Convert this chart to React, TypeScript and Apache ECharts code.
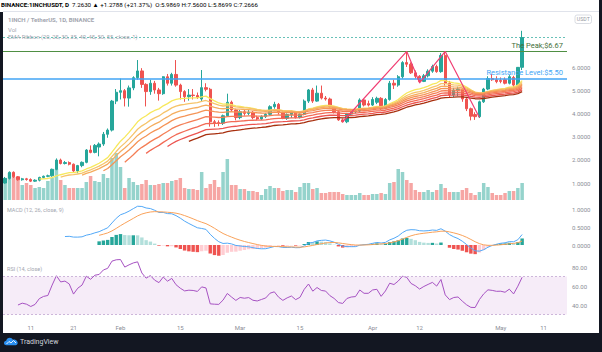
import React, { useEffect, useRef } from "react";
import * as echarts from "echarts";

// ---------- data ----------
const startDate = "2021-01-05";
const dayCount = 132; // Jan 5 .. May 16 (empty space right of last candle)

// closes of the bars before the visible range (Dec 25 – Jan 4), only for indicator warm-up
const preCloses = [1.40, 1.35, 1.30, 1.22, 1.18, 1.12, 1.08, 1.02, 0.98, 0.94, 1.00];

const opens = [
  1.00, 1.20, 1.46, 1.27, 1.14, 1.18, 1.15, 1.08, 1.12, 1.24, 1.29, 1.31, 1.59, 1.99, 1.84, 1.88, 1.81, 1.52, 1.75, 1.89,
  2.42, 2.32, 2.55, 2.68, 3.10, 3.28, 4.53, 4.91, 4.98, 4.66, 5.10, 5.54, 5.83, 5.25, 4.94, 5.30, 5.01, 4.85, 5.58, 5.30,
  5.68, 5.22, 4.94, 4.72, 4.79, 4.77, 4.62, 5.11, 5.04, 3.64, 3.60, 3.58, 3.90, 4.48, 4.15, 3.82, 4.07, 4.00, 4.05, 3.82,
  3.76, 3.86, 3.96, 4.29, 4.39, 4.03, 3.79, 3.95, 4.07, 3.82, 3.96, 4.53, 5.01, 4.53, 4.87, 4.66, 4.62, 4.29, 4.07, 3.72,
  3.64, 3.97, 4.07, 4.10, 4.58, 4.42, 4.36, 4.48, 4.65, 4.22, 4.60, 5.30, 5.22, 5.58, 6.19, 6.12, 5.75, 5.60, 5.38, 5.62,
  5.82, 6.02, 5.80, 6.50, 5.30, 4.80, 5.00, 5.05, 4.62, 4.20, 3.95, 3.86, 4.50, 5.05, 5.50, 5.45, 5.42, 5.45, 5.30, 5.55,
  5.22, 5.9869,
];
const highs = [
  1.26, 1.50, 1.50, 1.30, 1.22, 1.22, 1.20, 1.16, 1.27, 1.32, 1.36, 1.62, 2.06, 2.05, 1.95, 1.93, 1.84, 1.78, 1.93, 2.46,
  2.62, 2.68, 2.75, 3.20, 3.35, 4.58, 5.05, 5.50, 5.05, 5.20, 5.60, 6.30, 5.95, 5.30, 5.45, 5.40, 5.10, 5.60, 5.70, 5.75,
  6.30, 5.28, 5.00, 5.05, 5.05, 4.90, 5.87, 5.30, 5.10, 3.72, 3.70, 3.95, 4.85, 4.55, 4.20, 4.15, 4.15, 4.15, 4.10, 3.90,
  3.92, 4.02, 4.35, 4.50, 4.45, 4.08, 4.00, 4.12, 4.10, 4.00, 4.60, 5.05, 5.10, 5.20, 5.20, 4.75, 4.68, 4.32, 4.10, 3.78,
  4.02, 4.12, 4.20, 4.65, 4.62, 4.55, 4.70, 4.72, 4.70, 4.66, 5.40, 5.45, 5.65, 6.25, 6.67, 6.20, 5.85, 5.65, 5.70, 5.90,
  6.10, 6.10, 6.60, 6.67, 5.40, 5.10, 5.15, 5.08, 4.68, 4.25, 4.05, 4.55, 5.10, 5.60, 5.70, 5.60, 5.55, 5.55, 5.65, 5.62,
  6.00, 7.56,
];
const lows = [
  0.97, 1.15, 1.22, 1.10, 1.10, 1.10, 1.04, 1.05, 1.07, 1.20, 1.25, 1.27, 1.55, 1.80, 1.80, 1.76, 1.48, 1.42, 1.68, 1.85,
  2.28, 2.28, 2.15, 2.60, 2.95, 3.22, 4.40, 4.60, 4.30, 4.29, 5.00, 5.45, 5.10, 4.30, 4.80, 4.85, 4.55, 4.80, 5.20, 5.20,
  5.15, 4.60, 4.50, 4.55, 4.60, 4.62, 4.50, 4.95, 3.43, 3.42, 3.45, 3.50, 3.85, 4.10, 3.70, 3.75, 3.90, 3.92, 3.75, 3.70,
  3.72, 3.80, 3.90, 4.20, 3.95, 3.75, 3.72, 3.80, 3.78, 3.78, 3.92, 4.45, 4.45, 4.50, 4.60, 4.55, 4.25, 4.00, 3.68, 3.60,
  3.58, 3.90, 4.00, 4.02, 4.30, 4.30, 4.32, 4.40, 4.15, 4.18, 4.55, 5.05, 5.15, 5.50, 6.00, 5.70, 5.50, 5.30, 5.35, 5.55,
  5.75, 5.75, 5.75, 5.20, 4.70, 4.70, 4.75, 4.50, 4.10, 3.70, 3.72, 3.80, 4.45, 5.00, 5.40, 5.30, 5.30, 5.25, 5.25, 5.10,
  5.15, 5.8699,
];
const closes = [
  1.20, 1.46, 1.27, 1.14, 1.18, 1.15, 1.08, 1.12, 1.24, 1.29, 1.31, 1.59, 1.99, 1.84, 1.88, 1.81, 1.52, 1.75, 1.89, 2.42,
  2.32, 2.62, 2.68, 3.10, 3.28, 4.53, 4.91, 4.98, 4.66, 5.10, 5.54, 5.83, 5.25, 4.94, 5.30, 5.01, 4.85, 5.58, 5.30, 5.68,
  5.22, 4.94, 4.72, 4.79, 4.77, 4.70, 5.11, 5.04, 3.64, 3.60, 3.58, 3.90, 4.48, 4.15, 3.82, 4.07, 4.00, 4.05, 3.82, 3.76,
  3.86, 3.96, 4.29, 4.39, 4.03, 3.79, 3.95, 4.07, 3.82, 3.96, 4.53, 5.01, 4.53, 4.87, 4.66, 4.62, 4.29, 4.07, 3.72, 3.64,
  3.97, 4.07, 4.10, 4.58, 4.36, 4.36, 4.60, 4.65, 4.22, 4.60, 5.30, 5.22, 5.58, 6.19, 6.12, 5.75, 5.60, 5.38, 5.62, 5.82,
  6.02, 5.80, 6.50, 5.30, 4.80, 5.00, 5.05, 4.62, 4.20, 3.88, 3.86, 4.50, 5.05, 5.50, 5.45, 5.37, 5.38, 5.30, 5.58, 5.22,
  5.984, 7.2666,
];
// volume (relative units)
const volumes = [
  44, 54, 46, 40, 30, 34, 30, 24, 26, 24, 38, 44, 62, 40, 30, 24, 24, 24, 24, 36,
  48, 38, 36, 52, 44, 84, 94, 66, 24, 44, 36, 30, 32, 40, 30, 30, 32, 34, 34, 38,
  40, 44, 24, 22, 22, 20, 56, 24, 32, 40, 26, 56, 82, 30, 30, 22, 22, 18, 18, 16,
  10, 22, 28, 24, 24, 18, 20, 20, 16, 26, 34, 34, 22, 24, 14, 14, 16, 16, 16, 12,
  10, 10, 10, 14, 10, 10, 12, 12, 14, 12, 34, 36, 62, 56, 40, 34, 20, 16, 16, 20,
  16, 20, 32, 24, 16, 16, 16, 20, 24, 14, 10, 16, 34, 26, 14, 10, 10, 14, 18, 18,
  24, 34,
];

const tickDates = ["2021-01-11", "2021-01-21", "2021-02-01", "2021-02-15", "2021-03-01", "2021-03-15", "2021-04-01", "2021-04-12", "2021-05-01", "2021-05-11"];
const tickLabels = ["11", "21", "Feb", "15", "Mar", "15", "Apr", "12", "May", "11"];

const ribbonLengths = [20, 25, 30, 35, 40, 45, 50, 55];
const ribbonColors = ["#f7e85c", "#f6c46a", "#f5ad5e", "#f59456", "#f47e55", "#f26a55", "#ec5450", "#a8300f"];

const peakLevel = 6.67;
const resistanceLevel = 5.5;
const lastPrice = 7.2666;
const zigzagIdx = [79, 94, 97, 103, 111];
const zigzagVals = [3.64, 6.67, 5.32, 6.67, 3.82];

// ---------- helpers ----------
function buildDates(): string[] {
  const out: string[] = [];
  const d0 = new Date(startDate + "T00:00:00Z").getTime();
  for (let i = 0; i < dayCount; i++) out.push(new Date(d0 + i * 86400000).toISOString().slice(0, 10));
  return out;
}
function emaSeries(src: (number | null)[], len: number): (number | null)[] {
  const out: (number | null)[] = src.map(() => null);
  const a = 2 / (len + 1);
  let prev: number | null = null;
  let count = 0;
  let sum = 0;
  for (let i = 0; i < src.length; i++) {
    const v = src[i];
    if (v == null) continue;
    if (prev === null) {
      count++;
      sum += v;
      if (count === len) {
        prev = sum / len;
        out[i] = prev;
      }
    } else {
      prev = a * v + (1 - a) * prev;
      out[i] = prev;
    }
  }
  return out;
}
function rsiSeries(src: number[], len: number): (number | null)[] {
  const out: (number | null)[] = src.map(() => null);
  let au = 0;
  let ad = 0;
  for (let i = 1; i < src.length; i++) {
    const ch = src[i] - src[i - 1];
    const u = Math.max(ch, 0);
    const d = Math.max(-ch, 0);
    if (i < len) {
      au += u;
      ad += d;
      continue;
    }
    if (i === len) {
      au = (au + u) / len;
      ad = (ad + d) / len;
    } else {
      au = (au * (len - 1) + u) / len;
      ad = (ad * (len - 1) + d) / len;
    }
    out[i] = ad === 0 ? 100 : 100 - 100 / (1 + au / ad);
  }
  return out;
}

const CLOUD_PATH =
  "M4 14C1.8 14 0 12.4 0 10.3C0 8.3 1.6 6.8 3.6 6.7C4.3 3.9 6.7 2 9.6 2C12 2 14 3.3 15 5.3C15.8 4.9 16.7 4.8 17.6 4.9C20.6 5.3 22.8 7.7 22.8 10.5C22.8 12.4 21.3 14 19.4 14Z";
let shapeRegistered = false;

export default function App() {
  const ref = useRef<HTMLDivElement>(null);
  useEffect(() => {
    document.body.style.margin = "0";
    if (!shapeRegistered) {
      echarts.graphic.registerShape("tvcloud", echarts.graphic.extendPath(CLOUD_PATH, {}) as any);
      shapeRegistered = true;
    }
    const chart = echarts.init(ref.current!, null, { renderer: "svg" });
    const dates = buildDates();
    const off = preCloses.length;
    const all = [...preCloses, ...closes];
    const vis = (arr: (number | null)[]) => arr.slice(off).map((v) => (v == null ? "-" : +v.toFixed(4)));

    const ribbons = ribbonLengths.map((l) => vis(emaSeries(all, l)));
    const e12 = emaSeries(all, 12);
    const e26 = emaSeries(all, 26);
    const macdAll = all.map((_, i) => (e12[i] != null && e26[i] != null ? (e12[i] as number) - (e26[i] as number) : null));
    const sigAll = emaSeries(macdAll, 9);
    const histAll = macdAll.map((m, i) => (m != null && sigAll[i] != null ? m - (sigAll[i] as number) : null));
    const rsiAll = rsiSeries(all, 14);

    const histVis = histAll.slice(off);
    const histData = histVis.map((h, i) => {
      if (h == null) return "-";
      const p = i > 0 ? histVis[i - 1] : histAll[off - 1];
      let color;
      if (h >= 0) color = p != null && h < p ? "#b2dfdb" : "#26a69a";
      else color = p != null && h > p ? "#ffcdd2" : "#ef5350";
      return { value: +h.toFixed(4), itemStyle: { color } };
    });

    const candleData = opens.map((o, i) => [o, closes[i], lows[i], highs[i]]);
    const volData = volumes.map((v, i) => ({
      value: v,
      itemStyle: { color: closes[i] >= opens[i] ? "#95d3cc" : "#f6a6a4" },
    }));
    const zigzag = zigzagIdx.map((x, k) => [x, zigzagVals[k]]);

    const font = "Roboto, 'Open Sans', sans-serif";
    const axisLabelStyle = { color: "#8a8d96", fontSize: 6, fontFamily: font };
    const L = 3;
    const R = 35;
    const catAxis = (gi: number, show: boolean) => ({
      type: "category",
      gridIndex: gi,
      data: dates,
      boundaryGap: true,
      axisLine: { show: false },
      axisTick: { show: false },
      splitLine: { show: false },
      axisLabel: show
        ? {
            ...axisLabelStyle,
            margin: 0,
            interval: (_i: number, v: string) => tickDates.includes(v),
            formatter: (v: string) => {
              const k = tickDates.indexOf(v);
              return k >= 0 ? tickLabels[k] : "";
            },
          }
        : { show: false },
    });
    const endBox = (y: number, text: string, bg: string) => ({
      yAxis: y,
      lineStyle: { opacity: 0 },
      label: {
        show: true,
        position: "end",
        distance: 0,
        formatter: text,
        backgroundColor: bg,
        color: "#ffffff",
        fontSize: 6,
        fontFamily: font,
        padding: [1, 3, 0, 3],
        lineHeight: 7,
      },
    });

    chart.setOption({
      animation: false,
      backgroundColor: "#ffffff",
      grid: [
        { left: L, right: R, top: 9, bottom: 352 - 206.2 },
        { left: L, right: R, top: 120, bottom: 152 },
        { left: L, right: R, top: 191, bottom: 352 - 263 },
        { left: L, right: R, top: 257.5, bottom: 352 - 324 },
      ],
      xAxis: [catAxis(0, false), catAxis(1, false), catAxis(2, false), catAxis(3, true)],
      yAxis: [
        {
          type: "value",
          gridIndex: 0,
          position: "right",
          min: 0,
          max: 8.5,
          interval: 1,
          splitLine: { show: false },
          axisLine: { show: false },
          axisTick: { show: false },
          // 7 and 8 sit behind the last-price and currency boxes, so they are not drawn
          axisLabel: { ...axisLabelStyle, margin: 5, formatter: (v: number) => (v >= 1 && v <= 6 ? v.toFixed(4) : "") },
        },
        { type: "value", gridIndex: 1, min: 0, max: 160, show: false, splitLine: { show: false } },
        {
          type: "value",
          gridIndex: 2,
          position: "right",
          min: -0.5,
          max: 1.5,
          interval: 0.5,
          splitLine: { show: false },
          axisLine: { show: false },
          axisTick: { show: false },
          axisLabel: { ...axisLabelStyle, margin: 5, formatter: (v: number) => (v >= 0 && v <= 1 ? v.toFixed(4) : "") },
        },
        {
          type: "value",
          gridIndex: 3,
          position: "right",
          min: 20,
          max: 90,
          interval: 20,
          splitLine: { show: false },
          axisLine: { show: false },
          axisTick: { show: false },
          axisLabel: { ...axisLabelStyle, margin: 5, formatter: (v: number) => (v >= 40 && v <= 80 ? v.toFixed(2) : "") },
        },
      ],
      series: [
        { type: "bar", xAxisIndex: 1, yAxisIndex: 1, data: volData, barWidth: "82%", silent: true, z: 1 },
        {
          type: "candlestick",
          xAxisIndex: 0,
          yAxisIndex: 0,
          data: candleData,
          barWidth: "68%",
          z: 3,
          itemStyle: { color: "#26a69a", color0: "#ef5350", borderColor: "#26a69a", borderColor0: "#ef5350", borderWidth: 1 },
          markLine: {
            silent: true,
            symbol: ["none", "none"],
            animation: false,
            data: [
              {
                yAxis: lastPrice,
                lineStyle: { color: "#26a69a", type: [2, 2], width: 1, opacity: 0.7 },
                label: { show: false },
              },
              {
                yAxis: peakLevel,
                lineStyle: { color: "#4f8f43", type: "solid", width: 1 },
                label: {
                  show: true,
                  position: "insideEndTop",
                  distance: [4, 2],
                  formatter: "The Peak;$6.67",
                  color: "#44703a",
                  fontSize: 7.5,
                  fontFamily: font,
                },
              },
              {
                yAxis: resistanceLevel,
                lineStyle: { color: "#42a5f5", type: "solid", width: 1.5 },
                label: {
                  show: true,
                  position: "insideEndTop",
                  distance: [4, 2],
                  formatter: "Resistance Level:$5.50",
                  color: "#42a5f5",
                  fontSize: 7.5,
                  fontFamily: font,
                },
              },
              endBox(lastPrice, "7.2666", "#26a69a"),
              endBox(lastPrice - 0.3, "15:33:36", "#26a69a"),
              endBox(peakLevel, "6.6700", "#3f8f3a"),
              endBox(resistanceLevel, "5.5000", "#2196f3"),
            ],
          },
        },
        ...ribbons.map((d, k) => ({
          type: "line",
          xAxisIndex: 0,
          yAxisIndex: 0,
          data: d,
          symbol: "none",
          silent: true,
          z: 4,
          lineStyle: { color: ribbonColors[k], width: 1.3 },
        })),
        {
          type: "line",
          xAxisIndex: 0,
          yAxisIndex: 0,
          data: zigzag,
          symbol: "none",
          silent: true,
          z: 5,
          lineStyle: { color: "#f03f74", width: 1.2 },
        },
        { type: "bar", xAxisIndex: 2, yAxisIndex: 2, data: histData, barWidth: "80%", silent: true, z: 2 },
        {
          type: "line",
          xAxisIndex: 2,
          yAxisIndex: 2,
          data: vis(macdAll),
          symbol: "none",
          silent: true,
          z: 3,
          lineStyle: { color: "#52a8f7", width: 1 },
        },
        {
          type: "line",
          xAxisIndex: 2,
          yAxisIndex: 2,
          data: vis(sigAll),
          symbol: "none",
          silent: true,
          z: 3,
          lineStyle: { color: "#f9a25a", width: 1 },
        },
        {
          type: "line",
          xAxisIndex: 3,
          yAxisIndex: 3,
          data: vis(rsiAll),
          symbol: "none",
          silent: true,
          z: 3,
          lineStyle: { color: "#a652c2", width: 1 },
          markArea: {
            silent: true,
            itemStyle: { color: "rgba(156, 39, 176, 0.09)" },
            data: [[{ yAxis: 70 }, { yAxis: 30 }]],
          },
          markLine: {
            silent: true,
            symbol: ["none", "none"],
            label: { show: false },
            lineStyle: { color: "#cdb6da", type: [2, 2], width: 1 },
            data: [{ yAxis: 70 }, { yAxis: 30 }],
          },
        },
      ],
      graphic: [
        { type: "rect", z: 100, shape: { x: 0, y: 12, width: 3, height: 340 }, style: { fill: "#131722" } },
        { type: "rect", z: 100, shape: { x: 599, y: 0, width: 3, height: 352 }, style: { fill: "#131722" } },
        { type: "rect", z: 100, shape: { x: 0, y: 333, width: 602, height: 19 }, style: { fill: "#131722" } },
        { type: "line", z: 100, shape: { x1: 3, y1: 11.5, x2: 599, y2: 11.5 }, style: { stroke: "#e0e3eb", lineWidth: 1 } },
        {
          type: "text",
          z: 100,
          x: 1,
          y: 5,
          style: {
            text: "{a|BINANCE:1INCHUSDT, D}  {b|7.2630} {c|▲} {b|+1.2788 (+21.37%)}  {b|O:}{c|5.9869} {b|H:}{c|7.5600} {b|L:}{c|5.8699} {b|C:}{c|7.2666}",
            verticalAlign: "middle",
            fontSize: 6.2,
            fontFamily: font,
            rich: {
              a: { fontWeight: "bold", color: "#131722", fontSize: 6.2, fontFamily: font },
              b: { color: "#131722", fontSize: 6.2, fontFamily: font },
              c: { color: "#26a69a", fontSize: 6.2, fontFamily: font },
            },
          },
        },
        {
          type: "text",
          z: 100,
          x: 8,
          y: 19.3,
          style: { text: "1INCH / TetherUS, 1D, BINANCE", verticalAlign: "middle", fontSize: 6, fontWeight: "bold", fill: "#a3a6af", fontFamily: font },
        },
        { type: "text", z: 100, x: 8, y: 29, style: { text: "Vol", verticalAlign: "middle", fontSize: 6, fill: "#a3a6af", fontFamily: font } },
        {
          type: "text",
          z: 100,
          x: 8,
          y: 36.8,
          style: { text: "EMA Ribbon (20, 25, 30, 35, 40, 45, 50, 55, close, 1)", verticalAlign: "middle", fontSize: 5.8, fill: "#a3a6af", fontFamily: font },
        },
        { type: "text", z: 100, x: 7, y: 210, style: { text: "MACD (12, 26, close, 9)", verticalAlign: "middle", fontSize: 5.5, fill: "#a3a6af", fontFamily: font } },
        { type: "text", z: 100, x: 7, y: 268.5, style: { text: "RSI (14, close)", verticalAlign: "middle", fontSize: 5.5, fill: "#a3a6af", fontFamily: font } },
        {
          type: "group",
          z: 100,
          children: [
            { type: "rect", z: 100, shape: { x: 575, y: 15, width: 16.5, height: 8.5, r: 2 }, style: { fill: "#ffffff", stroke: "#d1d4dc", lineWidth: 0.8 } },
            { type: "text", z: 101, x: 583.3, y: 19.3, style: { text: "USDT", align: "center", verticalAlign: "middle", fontSize: 5.2, fill: "#9598a1", fontFamily: font } },
          ],
        },
        { type: "tvcloud", z: 101, x: 4, y: 336.5, scaleX: 0.6, scaleY: 0.62, style: { fill: "#2a8ff0" } },
        { type: "polyline", z: 102, shape: { points: [[6.5, 344], [9, 341.5], [11, 343], [13.5, 340.5], [16, 343]] }, style: { stroke: "#ffffff", lineWidth: 0.9, fill: null } },
        { type: "text", z: 101, x: 20, y: 342, style: { text: "TradingView", verticalAlign: "middle", fontSize: 7, fill: "#d1d4dc", fontFamily: font } },
      ],
    });
    return () => chart.dispose();
  }, []);
  return <div ref={ref} style={{ position: "fixed", left: 0, top: 0, width: 602, height: 352 }} />;
}
